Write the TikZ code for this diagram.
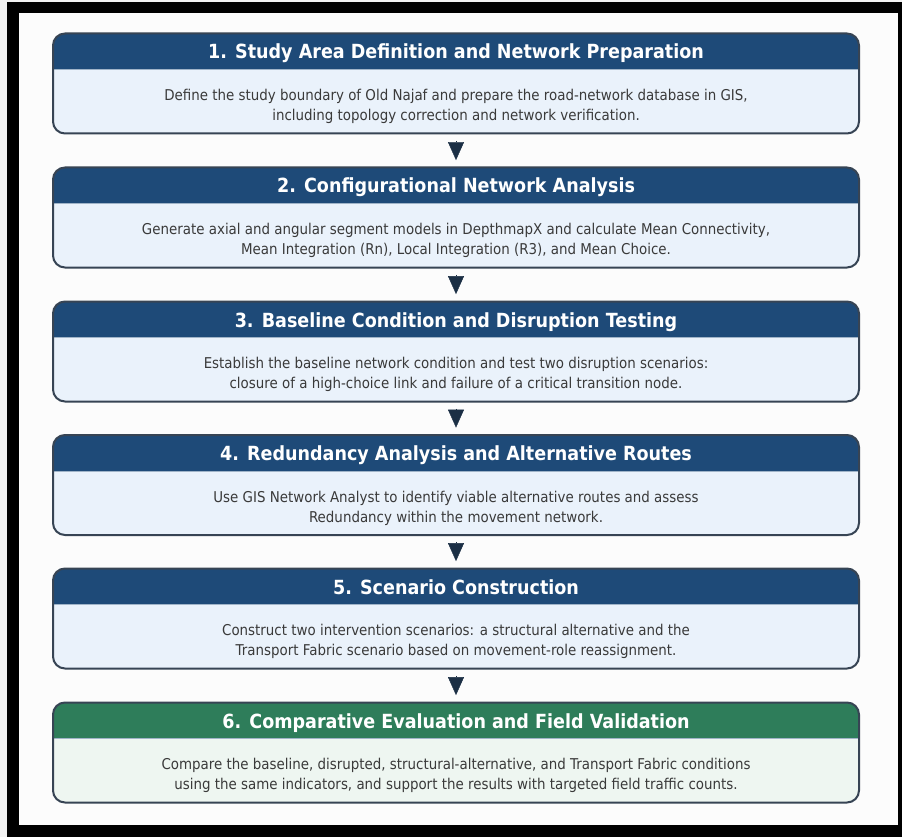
\documentclass[tikz,border=0pt]{standalone}
\usepackage{fontspec}
\setmainfont{DejaVu Sans}[FakeStretch=0.9]
\usetikzlibrary{calc,arrows.meta}

\definecolor{hdrblue}{RGB}{30,74,120}
\definecolor{bodyblue}{RGB}{234,242,251}
\definecolor{hdrgreen}{RGB}{46,125,90}
\definecolor{bodygreen}{RGB}{238,246,241}
\definecolor{edgecol}{RGB}{55,68,84}
\definecolor{txtgrey}{RGB}{58,58,58}
\definecolor{tipcol}{RGB}{27,47,69}
\definecolor{seamcol}{RGB}{160,180,200}

\tikzset{
  stepbox/.style={minimum width=806pt, minimum height=100pt, inner sep=0pt, outer sep=0pt},
  titletext/.style={text=white, inner sep=0pt, anchor=base, font=\bfseries\fontsize{19.5}{22}\selectfont},
  bodytext/.style={text=txtgrey, align=center, inner sep=0pt, font=\fontsize{14.9}{20}\selectfont},
  flowtip/.style={draw=tipcol, line width=0.4pt, -{Triangle[length=18pt,width=16pt]},
                  shorten <=7.4pt, shorten >=7.4pt}
}

% one stage: name, centre y, header colour, body colour, title, description
\newcommand\stagebox[6]{%
  \node[stepbox] (#1) at (456,#2) {};
  \fill[#4, rounded corners=12pt] (#1.south west) rectangle (#1.north east);
  \fill[#3, rounded corners=12pt] (#1.north west) rectangle ($(#1.north east)+(0,35.5)$);
  \fill[#3] ($(#1.north west)+(0,20)$) rectangle ($(#1.north east)+(0,35.5)$);
  \draw[seamcol, line width=1pt] ($(#1.north west)+(1,36)$) -- ($(#1.north east)+(-1,36)$);
  \draw[edgecol, line width=2pt, rounded corners=12pt] (#1.south west) rectangle (#1.north east);
  \node[titletext] (#1t) at ($(#1.north)+(0,25.5)$) {#5};
  \node[bodytext] (#1b) at ($(#1.center)+(0,23)$) {#6};
}

\begin{document}
\begin{tikzpicture}[x=1pt,y=-1pt]
  \useasboundingbox (0,0) rectangle (902,837);
  % frame
  \fill[white!95!black] (0,0) rectangle (902,837);
  \fill[black] (7,2) rectangle (902,837);
  \fill[white!99!black] (19,13) rectangle (898,825);

  \stagebox{s1}{83.5}{hdrblue}{bodyblue}{1. Study Area Definition and Network Preparation}
    {Define the study boundary of Old Najaf and prepare the road-network database in GIS,\\including topology correction and network verification.}
  \stagebox{s2}{217.5}{hdrblue}{bodyblue}{2. Configurational Network Analysis}
    {Generate axial and angular segment models in DepthmapX and calculate Mean Connectivity,\\Mean Integration (Rn), Local Integration (R3), and Mean Choice.}
  \stagebox{s3}{351.5}{hdrblue}{bodyblue}{3. Baseline Condition and Disruption Testing}
    {Establish the baseline network condition and test two disruption scenarios:\\closure of a high-choice link and failure of a critical transition node.}
  \stagebox{s4}{485}{hdrblue}{bodyblue}{4. Redundancy Analysis and Alternative Routes}
    {Use GIS Network Analyst to identify viable alternative routes and assess\\Redundancy within the movement network.}
  \stagebox{s5}{618.5}{hdrblue}{bodyblue}{5. Scenario Construction}
    {Construct two intervention scenarios: a structural alternative and the\\Transport Fabric scenario based on movement-role reassignment.}
  \stagebox{s6}{752.5}{hdrgreen}{bodygreen}{6. Comparative Evaluation and Field Validation}
    {Compare the baseline, disrupted, structural-alternative, and Transport Fabric conditions\\using the same indicators, and support the results with targeted field traffic counts.}

  % flow arrows
  \draw[flowtip] (s1.south) -- (s2.north);
  \draw[flowtip] (s2.south) -- (s3.north);
  \draw[flowtip] (s3.south) -- (s4.north);
  \draw[flowtip] (s4.south) -- (s5.north);
  \draw[flowtip] (s5.south) -- (s6.north);
\end{tikzpicture}
\end{document}
